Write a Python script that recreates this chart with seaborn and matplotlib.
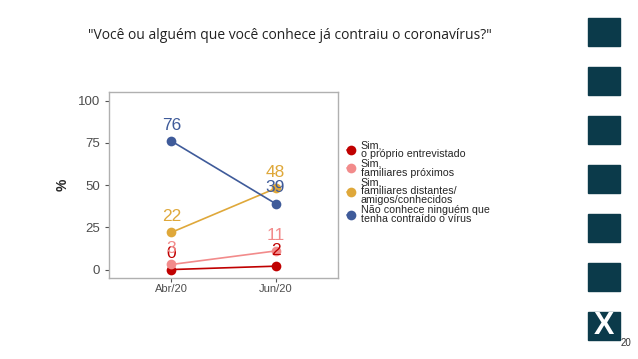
import matplotlib
matplotlib.use("Agg")
import matplotlib.pyplot as plt
import seaborn as sns
import pandas as pd
from matplotlib.patches import Rectangle

periodos = ["Abr/20", "Jun/20"]
series = [
    "Sim,\no próprio entrevistado",
    "Sim,\nfamiliares próximos",
    "Sim,\nfamiliares distantes/\namigos/conhecidos",
    "Não conhece ninguém que\ntenha contraído o vírus",
]
proprio = [0, 2]
proximos = [3, 11]
distantes = [22, 48]
nao_conhece = [76, 39]
cores = ["#C00000", "#F28B8B", "#DFA83A", "#3F5B9A"]

df = pd.DataFrame({
    "periodo": periodos * 4,
    "serie": [s for s in series for _ in periodos],
    "valor": proprio + proximos + distantes + nao_conhece,
})
df["x"] = df["periodo"].map({p: i for i, p in enumerate(periodos)})

sns.set_style("white")
plt.rcParams["font.family"] = ["Liberation Sans", "DejaVu Sans"]

fig = plt.figure(figsize=(6.38, 3.59), dpi=100)
ax = fig.add_axes([0.1708, 0.2256, 0.359, 0.518])

sns.lineplot(data=df, x="x", y="valor", hue="serie", hue_order=series,
             palette=cores, marker="o", markersize=7, markeredgewidth=0,
             linewidth=1.2, ax=ax)

# value labels above each point
for c, vals in zip(cores, [proprio, proximos, distantes, nao_conhece]):
    for i, v in enumerate(vals):
        ax.annotate(str(v), (i, v), xytext=(0, 6), textcoords="offset points",
                    ha="center", va="bottom", color=c, fontsize=12.5)

ax.set_xlim(-0.6, 1.6)
ax.set_ylim(-5, 105)
ax.set_xticks(range(len(periodos)))
ax.set_xticklabels(periodos)
ax.set_yticks([0, 25, 50, 75, 100])
ax.tick_params(axis="both", length=3, color="#555555", labelcolor="#4D4D4D",
               labelsize=8, bottom=True, left=True)
ax.tick_params(axis="x", pad=1.5)
ax.tick_params(axis="y", labelsize=9.5)
for sp in ax.spines.values():
    sp.set_color("#B0B0B0")
    sp.set_linewidth(1)
ax.set_xlabel("")
ax.set_ylabel("%", fontsize=10, fontweight="bold", labelpad=6)

handles, labels = ax.get_legend_handles_labels()
leg = ax.legend(handles, labels, loc="upper left", bbox_to_anchor=(1.02, 0.765),
                frameon=False, fontsize=7.7, labelspacing=0.0, handlelength=0.8,
                handletextpad=0.5, borderaxespad=0)
for t in leg.get_texts():
    t.set_linespacing(0.85)

fig.text(0.455, 0.9, '"Você ou alguém que você conhece já contraiu o coronavírus?"',
         ha="center", va="center", fontsize=10, color="#222222",
         family=["Open Sans", "DejaVu Sans"])

# decorative squares on the right edge
for top in [18, 67, 116, 165, 214, 263, 312]:
    fig.patches.append(Rectangle((588 / 638, 1 - (top + 28) / 359), 32 / 638, 28 / 359,
                                 transform=fig.transFigure, color="#0B3A4A"))
fig.text(604 / 638, 1 - 326 / 359, "X", ha="center", va="center", color="white",
         fontsize=22, fontweight="bold")
fig.text(626 / 638, 1 - 343 / 359, "20", ha="center", va="center", fontsize=7,
         color="#333333")

fig.savefig("out.png", dpi=100)
